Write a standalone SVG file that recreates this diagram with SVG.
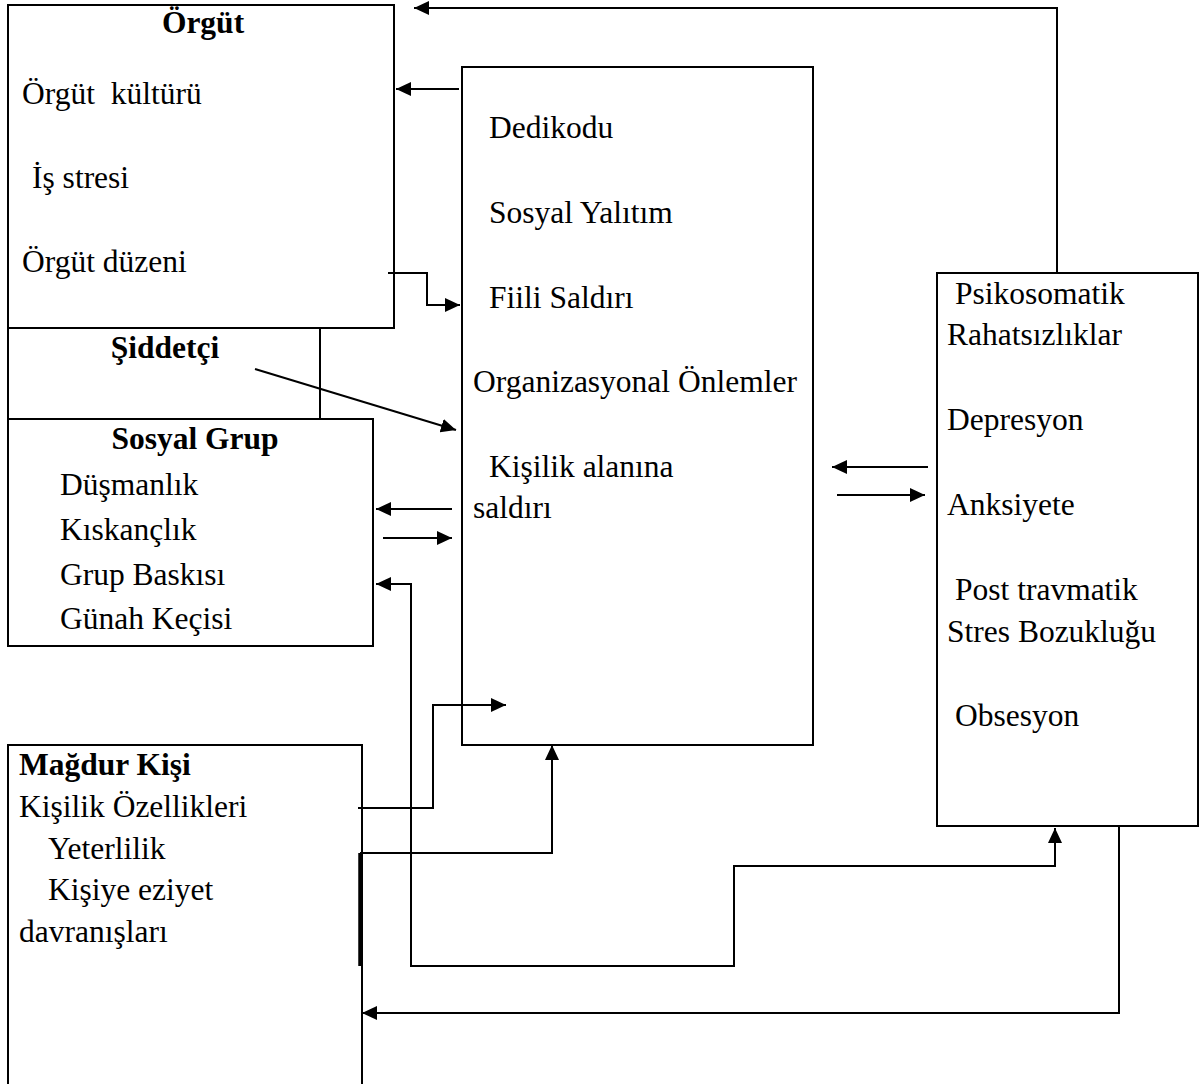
<svg xmlns="http://www.w3.org/2000/svg" width="1204" height="1084" viewBox="0 0 1204 1084">
<style>
.box{fill:none;stroke:#000;stroke-width:2}
.t{font-family:"Liberation Serif","Times New Roman",serif;font-size:31.5px;fill:#000}
.b{font-weight:bold}
.c{fill:none;stroke:#000;stroke-width:2}
.ar{marker-end:url(#ah)}
</style>
<defs>
<marker id="ah" markerUnits="userSpaceOnUse" markerWidth="16" markerHeight="14" refX="15" refY="7" orient="auto-start-reverse">
<path d="M0,0 L15,7 L0,14 z" fill="#000"/>
</marker>
</defs>
<rect width="1204" height="1084" fill="#fff"/>
<g id="node-orgut">
<rect class="box" x="8" y="5" width="386" height="323"/>
<text class="t b" x="203" y="33" text-anchor="middle">Örgüt</text>
<text class="t" x="22" y="104" xml:space="preserve">Örgüt  kültürü</text>
<text class="t" x="32" y="188">İş stresi</text>
<text class="t" x="22" y="272">Örgüt düzeni</text>
</g>
<g id="node-siddetci">
<path class="box" d="M8,328 V419 M320,328 V419"/>
<text class="t b" x="165" y="358" text-anchor="middle">Şiddetçi</text>
</g>
<g id="node-sosyal">
<rect class="box" x="8" y="419" width="365" height="227"/>
<text class="t b" x="195" y="449" text-anchor="middle">Sosyal Grup</text>
<text class="t" x="60" y="495">Düşmanlık</text>
<text class="t" x="60" y="540">Kıskançlık</text>
<text class="t" x="60" y="585">Grup Baskısı</text>
<text class="t" x="60" y="629">Günah Keçisi</text>
</g>
<g id="node-merkez">
<rect class="box" x="462" y="67" width="351" height="678"/>
<text class="t" x="489" y="138">Dedikodu</text>
<text class="t" x="489" y="223">Sosyal Yalıtım</text>
<text class="t" x="489" y="308">Fiili Saldırı</text>
<text class="t" x="473" y="392">Organizasyonal Önlemler</text>
<text class="t" x="489" y="477">Kişilik alanına</text>
<text class="t" x="473" y="518">saldırı</text>
</g>
<g id="node-magdur">
<rect class="box" x="8" y="745" width="354" height="350"/>
<text class="t b" x="19" y="775">Mağdur Kişi</text>
<text class="t" x="19" y="817">Kişilik Özellikleri</text>
<text class="t" x="48" y="859">Yeterlilik</text>
<text class="t" x="48" y="900">Kişiye eziyet</text>
<text class="t" x="19" y="942">davranışları</text>
</g>
<g id="node-sonuc">
<rect class="box" x="937" y="273" width="261" height="553"/>
<text class="t" x="955" y="304">Psikosomatik</text>
<text class="t" x="947" y="345">Rahatsızlıklar</text>
<text class="t" x="947" y="430">Depresyon</text>
<text class="t" x="947" y="515">Anksiyete</text>
<text class="t" x="955" y="600">Post travmatik</text>
<text class="t" x="947" y="642">Stres Bozukluğu</text>
<text class="t" x="955" y="726">Obsesyon</text>
</g>
<g id="connectors">
<path class="c ar" d="M1057,273 V8 H414"/>
<path class="c ar" d="M459,89 H396"/>
<path class="c ar" d="M388,273 H427 V305 H460"/>
<path class="c ar" d="M255,369 L456,430"/>
<path class="c ar" d="M452,509 H376"/>
<path class="c ar" d="M383,538 H452"/>
<path class="c" d="M376,584 H411 V966 H734 V866 H1055 V828" marker-start="url(#ah)" marker-end="url(#ah)"/>
<path class="c ar" d="M358,808 H433 V705 H506"/>
<path class="c ar" d="M360,853 H552 V745"/>
<path d="M360,853 V966" fill="none" stroke="#000" stroke-width="3.5"/>
<path class="c ar" d="M928,467 H832"/>
<path class="c ar" d="M837,495 H925"/>
<path class="c ar" d="M1119,826 V1013 H362"/>
</g>
</svg>
